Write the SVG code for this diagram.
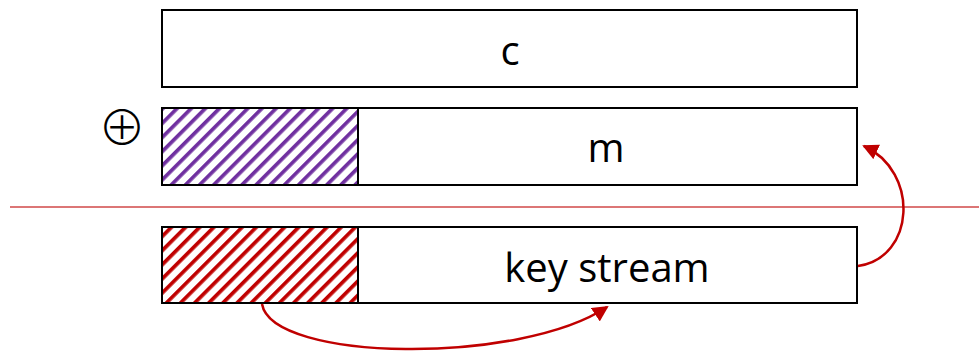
<svg xmlns="http://www.w3.org/2000/svg" width="979" height="353" viewBox="0 0 979 353">
<style>
.box{fill:#fff;stroke:#000;stroke-width:2}
.lbl{font-family:"Open Sans","Liberation Sans",sans-serif;font-size:40px;fill:#000;text-anchor:middle}
.arc{fill:none;stroke:#c00000;stroke-width:2.5}
</style>
<defs>
<pattern id="hp" patternUnits="userSpaceOnUse" width="10" height="10" patternTransform="rotate(45)">
<rect x="0" y="0" width="10" height="10" fill="#fff"/>
<rect x="0" y="0" width="3.7" height="10" fill="#7030a0"/>
</pattern>
<pattern id="hr" patternUnits="userSpaceOnUse" width="10" height="10" patternTransform="rotate(45)">
<rect x="0" y="0" width="10" height="10" fill="#fff"/>
<rect x="0" y="0" width="3.7" height="10" fill="#c00000"/>
</pattern>
<marker id="ah" markerWidth="16" markerHeight="16" refX="14" refY="8" orient="auto" markerUnits="userSpaceOnUse" viewBox="0 0 16 16">
<path d="M0,0 L16,8 L0,16 Z" fill="#c00000"/>
</marker>
</defs>
<line x1="10" y1="207" x2="979" y2="207" stroke="#d04848" stroke-width="1.5"/>
<g id="c-box">
<rect class="box" x="162" y="10" width="695" height="77"/>
<text class="lbl" x="510" y="65">c</text>
</g>
<g id="xor">
<text x="122" y="145" font-family="'Noto Sans CJK JP','DejaVu Sans',sans-serif" font-weight="300" font-size="48" text-anchor="middle">⊕</text>
</g>
<g id="m-box">
<rect class="box" x="162" y="108" width="695" height="77"/>
<rect x="162" y="108" width="196" height="77" fill="url(#hp)" stroke="#000" stroke-width="2"/>
<text class="lbl" x="606" y="162">m</text>
</g>
<g id="key-box">
<rect class="box" x="162" y="227" width="695" height="76"/>
<rect x="162" y="227" width="196" height="76" fill="url(#hr)" stroke="#000" stroke-width="2"/>
<text class="lbl" x="607" y="282">key stream</text>
</g>
<g id="connectors">
<path class="arc" d="M858,266 C915,258 920,172 864,146" marker-end="url(#ah)"/>
<path class="arc" d="M262,304 C272,362 520,365 607,307" marker-end="url(#ah)"/>
</g>
</svg>
